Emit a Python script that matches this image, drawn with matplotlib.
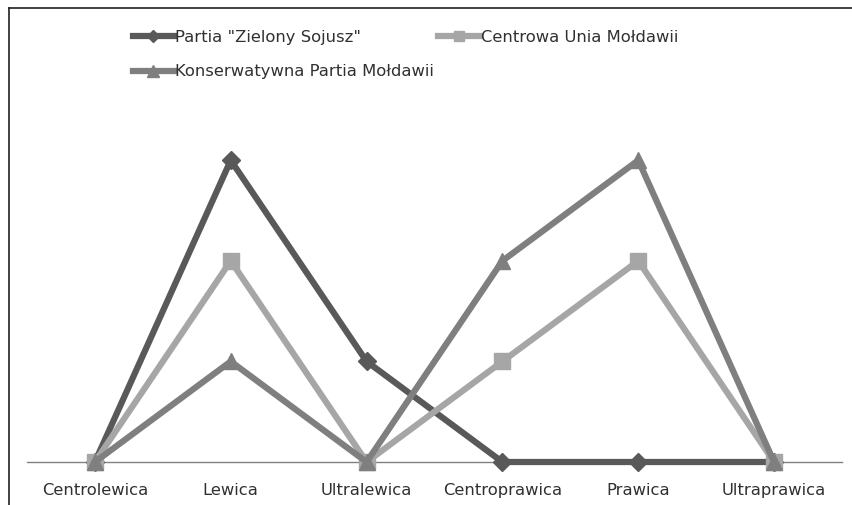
import matplotlib
matplotlib.use('Agg')
import matplotlib.pyplot as plt
from matplotlib.lines import Line2D

categories = ['Centrolewica', 'Lewica', 'Ultralewica', 'Centroprawica', 'Prawica', 'Ultraprawica']
zielony = [0, 3, 1, 0, 0, 0]
centrowa = [0, 2, 0, 1, 2, 0]
konserw = [0, 1, 0, 2, 3, 0]

W, H = 852, 505
fig = plt.figure(figsize=(W / 100, H / 100), dpi=100)
ax = fig.add_axes([27 / W, (H - 462) / H, (842 - 27) / W, (462 - 110) / H])

x = list(range(len(categories)))
l1, = ax.plot(x, zielony, color='#595959', lw=4.5, marker='D', ms=9, label='Partia "Zielony Sojusz"', zorder=3)
l2, = ax.plot(x, centrowa, color='#a6a6a6', lw=4.5, marker='s', ms=11, label='Centrowa Unia Mołdawii', zorder=3)
l3, = ax.plot(x, konserw, color='#7f7f7f', lw=4.5, marker='^', ms=12, label='Konserwatywna Partia Mołdawii', zorder=3)

ax.set_xlim(-0.5, 5.5)
ax.set_ylim(0, 3.5)
ax.set_xticks(x)
ax.set_xticklabels(categories, fontsize=11.8, color='#303030')
ax.tick_params(axis='x', length=0, pad=15)
ax.set_yticks([])
for s in ['top', 'right', 'left']:
    ax.spines[s].set_visible(False)
ax.spines['bottom'].set_color('#808080')
ax.spines['bottom'].set_linewidth(1.0)
ax.spines['bottom'].set_zorder(1)
for l in (l1, l2, l3):
    l.set_clip_on(False)

# legend: row-major order in the picture, matplotlib fills columns first
fig.legend([l1, l3, l2], [l1.get_label(), l3.get_label(), l2.get_label()],
           ncol=2, loc='upper left', bbox_to_anchor=(118 / W, 1 - 15 / H),
           frameon=False, fontsize=11.8, handlelength=2.5, handletextpad=0.1,
           columnspacing=0.25, labelspacing=1.2, markerscale=0.7,
           labelcolor='#303030')

# outer frame (only left and top edges visible)
fig.add_artist(Line2D([9 / W, 9 / W], [0, 1 - 8 / H], color='#202020', lw=1.2))
fig.add_artist(Line2D([9 / W, 1], [1 - 8 / H, 1 - 8 / H], color='#202020', lw=1.2))

fig.savefig('out.png', dpi=100)
